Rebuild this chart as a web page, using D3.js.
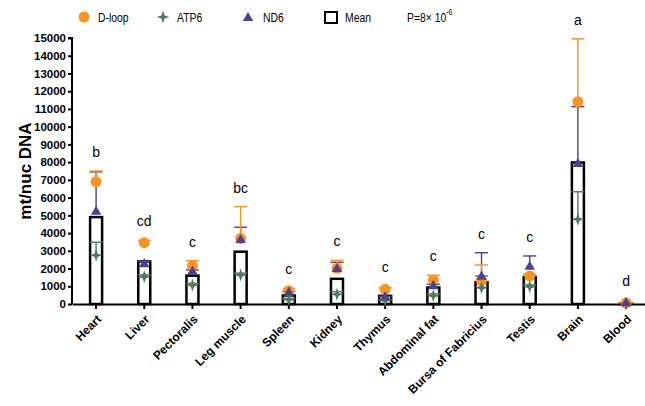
<!DOCTYPE html>
<html><head><meta charset="utf-8">
<script src="https://cdn.jsdelivr.net/npm/d3@7"></script>
<style>body{margin:0;background:#fff}</style>
</head><body>
<svg id="c" width="645" height="406"></svg>
<script>
const categories = ["Heart","Liver","Pectoralis","Leg muscle","Spleen","Kidney","Thymus","Abdominal fat","Bursa of Fabricius","Testis","Brain","Blood"];
const dloop    = [6900, 3460, 2140, 3700, 750, 2010, 830, 1350, 1300, 1580, 11410, 50];
const dloopSD  = [600, 120, 300, 1790, 100, 450, 80, 270, 900, 100, 3540, 20];
const atp6     = [2750, 1540, 1070, 1640, 250, 550, 200, 470, 920, 980, 4780, 20];
const atp6SD   = [730, 100, 100, 100, 60, 150, 50, 100, 660, 100, 1550, 10];
const nd6      = [5200, 2250, 1820, 3610, 640, 1970, 380, 1010, 1540, 2100, 7900, 50];
const nd6SD    = [2250, 150, 100, 720, 60, 380, 50, 100, 1350, 610, 3230, 20];
const meanVals = [4900, 2400, 1600, 2950, 480, 1420, 460, 930, 1230, 1520, 7980, 40];
const letters  = ["b","cd","c","bc","c","c","c","c","c","c","a","d"];
const yTicks   = d3.range(0, 15001, 1000);

const orange = "#F7931E", green = "#4F7A5C", purple = "#4E3F8F";
const svg = d3.select("#c");
const x = d3.scaleBand().domain(categories).range([72, 72 + 12 * 48.18]).padding(0);
const y = d3.scaleLinear().domain([0, 15000]).range([304, 38]);
const cx = c => x(c) + x.bandwidth() / 2;

// Y axis
const ya = svg.append("g").attr("transform", "translate(72,0)")
  .call(d3.axisLeft(y).tickValues(yTicks).tickSize(4).tickPadding(2).tickFormat(d3.format("d")));
ya.select(".domain").attr("stroke-width", 2).attr("d", `M-4,${y(15000)}H0V${y(0)}`);
ya.selectAll(".tick line").attr("stroke-width", 2);
ya.selectAll(".tick text").attr("font-family", "Liberation Sans, Arial, sans-serif")
  .attr("font-weight", "bold").attr("font-size", 11.5).attr("fill", "#000");

// X axis
const xa = svg.append("g").attr("transform", `translate(0,${y(0)})`)
  .call(d3.axisBottom(x).tickSize(5).tickSizeOuter(0));
xa.select(".domain").attr("stroke-width", 2);
xa.selectAll(".tick line").attr("stroke-width", 2);
xa.selectAll(".tick text").attr("font-family", "Liberation Sans, Arial, sans-serif")
  .attr("font-weight", "bold").attr("font-size", 12).attr("fill", "#000")
  .attr("text-anchor", "end").attr("dy", null).attr("y", 0)
  .attr("transform", "translate(6,16) rotate(-45)");

// Y title
svg.append("text").attr("transform", `translate(31,${(y(0)+y(15000))/2}) rotate(-90)`)
  .attr("text-anchor", "middle").attr("font-family", "Liberation Sans, Arial, sans-serif")
  .attr("font-weight", "bold").attr("font-size", 17).text("mt/nuc DNA");

// Mean bars
const bw = 13;
svg.append("g").selectAll("rect").data(categories).join("rect")
  .attr("x", c => cx(c) - bw / 2 + 0.5).attr("width", bw - 1)
  .attr("y", (c, i) => y(meanVals[i])).attr("height", (c, i) => y(0) - y(meanVals[i]))
  .attr("fill", "#fff").attr("stroke", "#000").attr("stroke-width", 2.5);

// error bars
function errBars(vals, sds, color) {
  const g = svg.append("g").attr("stroke", color).attr("stroke-width", 1.4).attr("fill", "none");
  categories.forEach((c, i) => {
    const x0 = cx(c), top = y(vals[i] + sds[i]);
    g.append("line").attr("x1", x0).attr("x2", x0).attr("y1", y(vals[i])).attr("y2", top);
    g.append("line").attr("x1", x0 - 6.5).attr("x2", x0 + 6.5).attr("y1", top).attr("y2", top);
  });
}
errBars(atp6, atp6SD, green);
errBars(nd6, nd6SD, purple);
errBars(dloop, dloopSD, orange);

const starPath = (r, w) => `M0,${-r}L${w},${-w}L${r},0L${w},${w}L0,${r}L${-w},${w}L${-r},0L${-w},${-w}Z`;
const triPath = d3.symbol().type(d3.symbolTriangle).size(48)();

svg.append("g").selectAll("circle").data(categories).join("circle")
  .attr("cx", cx).attr("cy", (c, i) => y(dloop[i])).attr("r", 5.5).attr("fill", orange);
svg.append("g").selectAll("path").data(categories).join("path")
  .attr("d", starPath(6.5, 1.6)).attr("fill", green)
  .attr("transform", (c, i) => `translate(${cx(c)},${y(atp6[i])})`);
svg.append("g").selectAll("path").data(categories).join("path")
  .attr("d", triPath).attr("fill", purple)
  .attr("transform", (c, i) => `translate(${cx(c)},${y(nd6[i])})`);

// letters
svg.append("g").selectAll("text").data(categories).join("text")
  .attr("x", cx)
  .attr("y", (c, i) => Math.min(y(dloop[i] + dloopSD[i]), y(nd6[i] + nd6SD[i]), y(atp6[i] + atp6SD[i]), y(dloop[i]) - 3) - 14)
  .attr("text-anchor", "middle").attr("font-family", "Liberation Sans, Arial, sans-serif")
  .attr("font-size", 14).text((c, i) => letters[i]);

// legend
const lf = "'Liberation Sans', Arial, sans-serif";
const lg = svg.append("g").attr("font-family", lf).attr("font-size", 13.5);
const ltext = (xx, yy) => lg.append("text").attr("transform", `translate(${xx},${yy}) scale(0.77,1)`);
lg.append("circle").attr("cx", 84).attr("cy", 17).attr("r", 5.5).attr("fill", orange);
ltext(98, 22).text("D-loop");
lg.append("path").attr("d", starPath(6.5, 1.6)).attr("fill", green).attr("transform", "translate(163,17)");
ltext(177, 22).text("ATP6");
lg.append("path").attr("d", triPath).attr("fill", purple).attr("transform", "translate(248,18)");
ltext(263, 22).text("ND6");
lg.append("rect").attr("x", 325).attr("y", 12).attr("width", 12).attr("height", 11)
  .attr("fill", "#fff").attr("stroke", "#000").attr("stroke-width", 2);
ltext(345, 22).text("Mean");
const pt = ltext(407, 22);
pt.append("tspan").text("P=8× 10");
pt.append("tspan").attr("font-size", 9).attr("dy", -7).text("-6");
</script>
</body></html>
